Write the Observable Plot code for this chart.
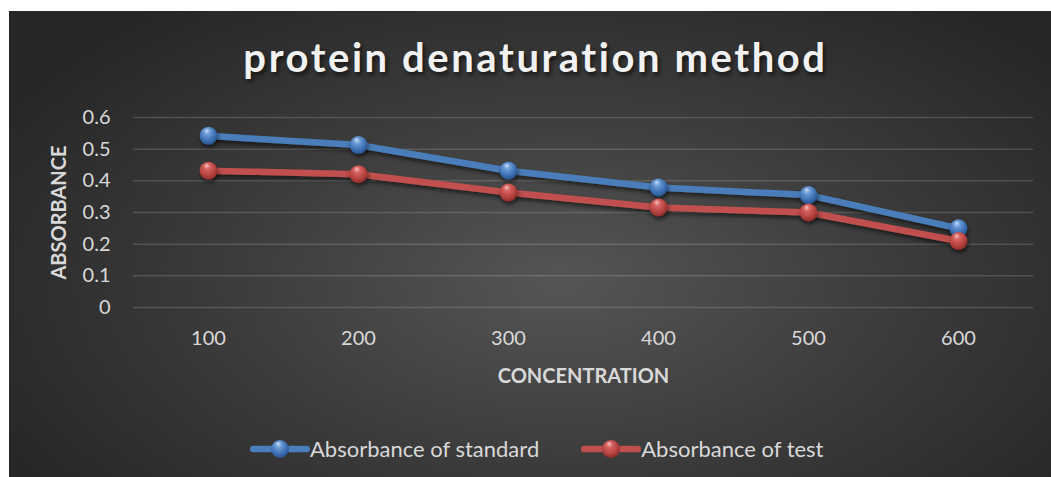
<!DOCTYPE html>
<html>
<head>
<meta charset="utf-8">
<script src="https://cdn.jsdelivr.net/npm/d3@7"></script>
<script src="https://cdn.jsdelivr.net/npm/@observablehq/plot@0.6"></script>
<style>
  html, body { margin: 0; padding: 0; background: #ffffff; width: 1051px; height: 477px; overflow: hidden; }
  #panel {
    position: absolute; left: 9px; top: 11px; width: 1042px; height: 466px; overflow: hidden;
    background: radial-gradient(ellipse 62% 75% at 53% 58%, #555555 0%, #3a3a3a 55%, #262626 100%);
    font-family: Lato, "Open Sans", sans-serif;
  }
  #title {
    position: absolute; left: 0; top: 22px; width: 1042px; padding-left: 11px; box-sizing: border-box;
    text-align: center; font-size: 40px; line-height: 48px; font-weight: bold; color: #f2f2f2;
    text-shadow: 2px 3px 4px rgba(0,0,0,0.6); white-space: nowrap;
  }
  #chart { position: absolute; left: 0; top: 84px; }
  #legend {
    position: absolute; left: 241px; top: 426px; display: flex; align-items: center;
    font-size: 22px; color: #d9d9d9; white-space: nowrap; line-height: 24px;
  }
  .item { display: flex; align-items: center; }
  .item + .item { margin-left: 42px; }
  .item svg { display: block; }
</style>
</head>
<body>
<div id="panel">
  <div id="title"><span id="titleText"></span></div>
  <div id="chart"></div>
  <div id="legend"></div>
</div>
<script>
// ---- data ----
const titleText = "protein denaturation method";
const xTitle = "CONCENTRATION";
const yTitle = "ABSORBANCE";
const categories = ["100", "200", "300", "400", "500", "600"];
const seriesNames = ["Absorbance of standard", "Absorbance of test"];
const standardValues = [0.542, 0.513, 0.432, 0.379, 0.355, 0.250];
const testValues = [0.432, 0.421, 0.363, 0.316, 0.300, 0.210];
const yTicks = [0, 0.1, 0.2, 0.3, 0.4, 0.5, 0.6];
const seriesColors = ["#4a7ebb", "#c0504d"];

const rowsStd = categories.map((c, i) => ({conc: c, value: standardValues[i], series: seriesNames[0]}));
const rowsTest = categories.map((c, i) => ({conc: c, value: testValues[i], series: seriesNames[1]}));

// ---- title ----
const tspan = document.getElementById("titleText");
tspan.textContent = titleText;
const natural = tspan.getBoundingClientRect().width;
const targetW = 585;
tspan.style.letterSpacing = ((targetW - natural) / titleText.length) + "px";

// ---- chart ----
const W = 1042, H = 300;
const plot = Plot.plot({
  width: W, height: H,
  marginLeft: 124, marginRight: 18, marginTop: 22, marginBottom: 88,
  style: {background: "transparent", color: "#d9d9d9", fontFamily: "Lato, 'Open Sans', sans-serif", fontSize: "20px", overflow: "visible"},
  x: {type: "point", domain: categories, padding: 0.5, label: null, tickSize: 0, tickPadding: 23},
  y: {domain: [0, 0.6], ticks: yTicks, tickFormat: d => String(d), label: null, tickSize: 0, tickPadding: 23},
  marks: [
    Plot.gridY(yTicks, {stroke: "white", strokeOpacity: 0.15, strokeWidth: 1.5}),
    Plot.line(rowsStd, {x: "conc", y: "value", stroke: seriesColors[0], strokeWidth: 6.5}),
    Plot.line(rowsTest, {x: "conc", y: "value", stroke: seriesColors[1], strokeWidth: 6.5}),
    Plot.dot(rowsStd, {x: "conc", y: "value", r: 9, fill: "url(#gBlue)", stroke: "none"}),
    Plot.dot(rowsTest, {x: "conc", y: "value", r: 9, fill: "url(#gRed)", stroke: "none"}),
    Plot.text([xTitle], {text: d => d, frameAnchor: "bottom", dy: 69, lineAnchor: "middle", fontWeight: "bold", fill: "#d9d9d9", fontSize: 20}),
    Plot.text([yTitle], {text: d => d, frameAnchor: "left", dx: -74, rotate: -90, textAnchor: "middle", lineAnchor: "middle", fontWeight: "bold", fill: "#d9d9d9", fontSize: 20})
  ]
});

const defsHtml = `
  <filter id="shadow" filterUnits="userSpaceOnUse" x="0" y="0" width="${W}" height="${H}">
    <feDropShadow dx="1" dy="3" stdDeviation="2" flood-color="#000" flood-opacity="0.55"/>
  </filter>
  <radialGradient id="gBlue" cx="0.45" cy="0.4" r="0.6" fx="0.4" fy="0.2">
    <stop offset="0" stop-color="#c6ddf7"/>
    <stop offset="0.3" stop-color="#6a9ad6"/>
    <stop offset="0.75" stop-color="#3a6db0"/>
    <stop offset="1" stop-color="#27528a"/>
  </radialGradient>
  <radialGradient id="gRed" cx="0.45" cy="0.4" r="0.6" fx="0.4" fy="0.2">
    <stop offset="0" stop-color="#f5c2c0"/>
    <stop offset="0.3" stop-color="#d4615d"/>
    <stop offset="0.75" stop-color="#b2403d"/>
    <stop offset="1" stop-color="#8a2c2a"/>
  </radialGradient>`;
const svgSel = d3.select(plot);
svgSel.insert("defs", ":first-child").html(defsHtml);
svgSel.selectAll('g[aria-label="line"], g[aria-label="dot"]').attr("filter", "url(#shadow)");
document.getElementById("chart").appendChild(plot);

// ---- legend ----
const legend = d3.select("#legend");
seriesNames.forEach((name, i) => {
  const item = legend.append("div").attr("class", "item");
  const s = item.append("svg").attr("width", 60).attr("height", 24);
  s.append("line").attr("x1", 3).attr("x2", 57).attr("y1", 12).attr("y2", 12)
    .attr("stroke", seriesColors[i]).attr("stroke-width", 6.5).attr("stroke-linecap", "round");
  s.append("circle").attr("cx", 30).attr("cy", 12).attr("r", 9)
    .attr("fill", i === 0 ? "url(#gBlue)" : "url(#gRed)");
  item.append("span").text(name);
});
</script>
</body>
</html>
